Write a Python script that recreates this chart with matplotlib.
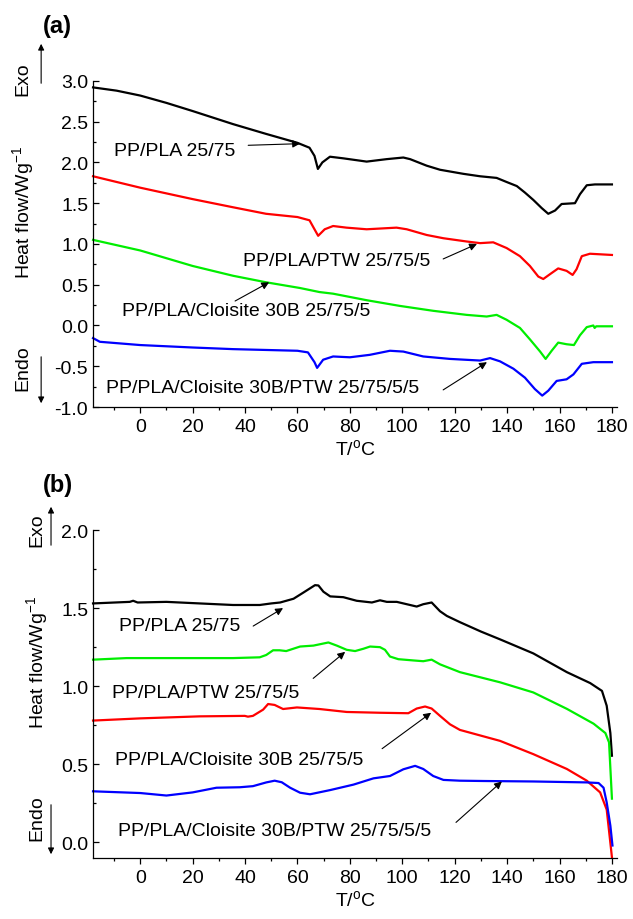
import matplotlib.pyplot as plt
from matplotlib.patches import FancyArrowPatch

plt.rcParams['font.family'] = ['Liberation Sans', 'DejaVu Sans']
plt.rcParams['mathtext.default'] = 'regular'

# ---- panel (a) data: T (deg C), heat flow (W/g) ----
a_pla_T = [-18, -9, 0, 10, 20, 35.4, 48, 60, 64.6, 66.5, 67.8, 69.5, 72.4, 77.5, 86.4, 94, 100.4, 103,
           109.3, 114.4, 123.3, 129.7, 136, 139.8, 143.7, 146.8, 150, 153.2, 155.7, 158.3, 160.8, 165.9,
           167.8, 170.4, 173.5, 180]
a_pla_H = [2.92, 2.88, 2.82, 2.73, 2.63, 2.47, 2.35, 2.24, 2.18, 2.08, 1.92, 2.0, 2.07, 2.05, 2.01, 2.04, 2.06, 2.04,
           1.96, 1.91, 1.86, 1.83, 1.81, 1.76, 1.71, 1.63, 1.54, 1.44, 1.37, 1.41, 1.49, 1.50,
           1.61, 1.72, 1.73, 1.73]

a_ptw_T = [-18, 0, 20, 35.4, 48, 60, 64.6, 66.5, 67.9, 70.4, 73.6, 78.7, 86.4, 97.8, 101.7, 109.3, 115.7,
           124.6, 129.7, 134.7, 139.8, 144.9, 148.7, 151.9, 153.8, 156.4, 159.5, 162.7, 165, 166.5, 168.5,
           171.6, 180]
a_ptw_H = [1.83, 1.69, 1.55, 1.45, 1.37, 1.33, 1.29, 1.18, 1.10, 1.18, 1.22, 1.20, 1.18, 1.20, 1.18, 1.11, 1.07,
           1.03, 1.01, 1.02, 0.95, 0.85, 0.73, 0.60, 0.57, 0.63, 0.70, 0.67, 0.62, 0.69, 0.85,
           0.88, 0.865]

a_clo_T = [-18, 0, 20, 35.4, 48, 60.9, 68.4, 73.6, 86.4, 99.1, 111.8, 124.6, 132.2, 136, 139.8, 144.9, 148.7,
           152.6, 154.7, 157, 159.5, 162.7, 165.5, 167.8, 170.4, 172.9, 173.4, 174, 180]
a_clo_H = [1.05, 0.92, 0.73, 0.61, 0.53, 0.46, 0.41, 0.39, 0.31, 0.24, 0.18, 0.13, 0.11, 0.13, 0.07, -0.03, -0.17,
           -0.32, -0.41, -0.31, -0.21, -0.23, -0.24, -0.12, -0.02, 0.0, -0.03, -0.01, -0.01]

a_all_T = [-18, -15.4, 0, 20, 35.4, 60, 64, 66.5, 67.5, 69.8, 73.6, 80, 87.6, 95.3, 100.4, 108, 118.2, 129.7,
           133.5, 137.3, 142.4, 146.8, 150.6, 153.4, 155.7, 158.9, 162.7, 165.3, 168.5, 172.9, 180]
a_all_H = [-0.155, -0.20, -0.24, -0.27, -0.29, -0.31, -0.33, -0.45, -0.52, -0.42, -0.38, -0.39, -0.36, -0.31, -0.32,
           -0.38, -0.41, -0.43, -0.40, -0.44, -0.53, -0.64, -0.78, -0.86, -0.80, -0.68, -0.66, -0.60, -0.47,
           -0.45, -0.45]

# ---- panel (b) data ----
b_pla_T = [-18, -4, -2.7, -1, 10, 22.7, 35.4, 45.6, 50, 53.4, 58.5, 62.3, 66.7, 68, 69.9, 72.5, 77.5, 82.6,
           88.4, 91.5, 94.1, 97.9, 101.7, 105.5, 108, 111.2, 114.4, 117, 122, 130, 137.3, 150, 162.8, 171.7,
           176.2, 178, 179.4, 180]
b_pla_H = [1.53, 1.54, 1.547, 1.536, 1.54, 1.53, 1.52, 1.52, 1.53, 1.536, 1.56, 1.60, 1.647, 1.645, 1.605, 1.575,
           1.57, 1.547, 1.536, 1.55, 1.54, 1.54, 1.525, 1.51, 1.525, 1.536, 1.48, 1.45, 1.41, 1.35, 1.30, 1.21,
           1.09, 1.02, 0.97, 0.875, 0.70, 0.555]

b_ptw_T = [-18, -5.2, 10, 35.4, 45.6, 48.1, 50.7, 53.2, 55.7, 61, 66.1, 71.8, 75, 78.8, 82, 85.2, 87.7, 91.5,
           93.4, 95.3, 98.5, 104.2, 108, 111.2, 114.4, 122, 137.3, 150, 162.8, 173, 177.5, 178.9, 180]
b_ptw_H = [1.17, 1.18, 1.18, 1.18, 1.185, 1.20, 1.23, 1.23, 1.225, 1.254, 1.26, 1.28, 1.26, 1.233, 1.225, 1.24,
           1.254, 1.25, 1.233, 1.19, 1.173, 1.165, 1.16, 1.17, 1.14, 1.09, 1.025, 0.96, 0.855, 0.76, 0.70, 0.64, 0.28]

b_clo_T = [-18, 0, 22.7, 39.9, 41.1, 43, 46.9, 48.8, 51.3, 54.5, 59.8, 68.4, 78.8, 91.5, 102.3, 105.5, 108.7,
           111.2, 114.4, 118.2, 122, 137.3, 150, 162.8, 170.4, 175.5, 178, 180]
b_clo_H = [0.78, 0.794, 0.807, 0.81, 0.805, 0.81, 0.85, 0.886, 0.88, 0.854, 0.864, 0.854, 0.835, 0.83, 0.827,
           0.857, 0.87, 0.857, 0.81, 0.756, 0.72, 0.65, 0.565, 0.47, 0.395, 0.32, 0.21, -0.095]

b_all_T = [-18, 0, 10, 20, 29.1, 38, 43, 48.1, 51.3, 54, 57.2, 61, 64.8, 72.5, 81.4, 89, 95.3, 100.4, 104.9,
           108, 111.8, 115.7, 122, 131, 150, 170.4, 174.9, 176.8, 178, 179.4, 180.2]
b_all_H = [0.327, 0.316, 0.30, 0.32, 0.35, 0.353, 0.36, 0.384, 0.395, 0.385, 0.35, 0.318, 0.308, 0.335, 0.37,
           0.41, 0.425, 0.468, 0.49, 0.47, 0.425, 0.40, 0.395, 0.393, 0.39, 0.384, 0.38, 0.35, 0.256, 0.107, -0.02]

labels = ['PP/PLA 25/75', 'PP/PLA/PTW 25/75/5', 'PP/PLA/Cloisite 30B 25/75/5',
          'PP/PLA/Cloisite 30B/PTW 25/75/5/5']
colors = ['black', '#ff0000', '#00ee00', '#0000ff']
# in panel (b) the PTW curve is green and the Cloisite curve red
colors_b = ['black', '#00ee00', '#ff0000', '#0000ff']

# text position (left, centre) and arrow (start, end) for each label
a_text = [(-9.9, 2.15), (39.3, 0.80), (-6.9, 0.18), (-13, -0.755)]
a_arrows = [((41.2, 2.21), (61, 2.23)), ((115.6, 0.816), (128.5, 1.0)),
            ((36.2, 0.30), (49.2, 0.53)), ((115.6, -0.79), (132.3, -0.45))]
b_text = [(-8.0, 1.39), (-10.7, 0.96), (-9.5, 0.53), (-8.4, 0.077)]
b_arrows = [((43.1, 1.385), (54.5, 1.50)), ((66, 1.05), (78.2, 1.22)),
            ((92.3, 0.60), (111, 0.83)), ((120.5, 0.128), (138, 0.39))]

fig = plt.figure(figsize=(6.33, 9.2), dpi=100)
ax1 = fig.add_axes([0.147, 0.5565, 0.828, 0.3545])
ax2 = fig.add_axes([0.147, 0.0663, 0.828, 0.3565])

curves_a = [(a_pla_T, a_pla_H), (a_ptw_T, a_ptw_H), (a_clo_T, a_clo_H), (a_all_T, a_all_H)]
curves_b = [(b_pla_T, b_pla_H), (b_ptw_T, b_ptw_H), (b_clo_T, b_clo_H), (b_all_T, b_all_H)]


def style(ax, ylim, ymajor, yminor):
    ax.set_xlim(-18, 182)
    ax.set_ylim(*ylim)
    ax.spines['top'].set_visible(False)
    ax.spines['right'].set_visible(False)
    for s in ['left', 'bottom']:
        ax.spines[s].set_linewidth(0.9)
    ax.set_xticks(range(0, 181, 20))
    ax.set_xticks(range(-10, 181, 20), minor=True)
    ax.set_yticks(ymajor)
    ax.set_yticks(yminor, minor=True)
    ax.tick_params(axis='x', which='major', direction='out', length=4, width=0.9, labelsize=14, pad=4)
    ax.tick_params(axis='x', which='minor', direction='out', length=2.5, width=0.9)
    ax.tick_params(axis='y', which='major', direction='in', length=4.5, width=0.9, labelsize=14, pad=3.5)
    ax.tick_params(axis='y', which='minor', direction='in', length=2.5, width=0.9)
    ax.set_yticklabels(['%.1f' % v for v in ymajor])
    ax.set_xlabel('T/$^{o}$C', fontsize=14, labelpad=2)


for (t, h), c in zip(curves_a, colors):
    ax1.plot(t, h, color=c, lw=1.6, clip_on=False)
for (t, h), c in zip(curves_b, colors_b):
    ax2.plot(t, h, color=c, lw=1.6, clip_on=False)

style(ax1, (-1.0, 3.0), [-1.0, -0.5, 0.0, 0.5, 1.0, 1.5, 2.0, 2.5, 3.0],
      [-0.75, -0.25, 0.25, 0.75, 1.25, 1.75, 2.25, 2.75])
style(ax2, (-0.1, 2.0), [0.0, 0.5, 1.0, 1.5, 2.0], [0.25, 0.75, 1.25, 1.75])

for ax, txts, arrs in [(ax1, a_text, a_arrows), (ax2, b_text, b_arrows)]:
    for lab, (tx, ty), (st, en) in zip(labels, txts, arrs):
        ax.text(tx, ty, lab, fontsize=14, ha='left', va='center')
        ax.annotate('', xy=en, xytext=st,
                    arrowprops=dict(arrowstyle='-|>', lw=0.8, color='black', mutation_scale=11,
                                    shrinkA=0, shrinkB=0))

# panel letters, axis titles, exo/endo markers
fig.text(0.068, 0.9707, '(a)', fontsize=17, fontweight='bold', ha='left', va='center')
fig.text(0.068, 0.4728, '(b)', fontsize=17, fontweight='bold', ha='left', va='center')

for x_t, x_ar, y_label, exo, endo in [
        (0.0363, 0.0650, 0.7685, (0.9136, 0.9054, 0.9543), (0.5995, 0.6141, 0.5576)),
        (0.0585, 0.0806, 0.2804, (0.4239, 0.4033, 0.4511), (0.1109, 0.1272, 0.0674))]:
    fig.text(x_t, y_label, 'Heat flow/Wg$^{-1}$', fontsize=14, rotation=90, ha='center', va='center')
    fig.text(x_t, exo[0], 'Exo', fontsize=14, rotation=90, ha='center', va='center')
    fig.text(x_t, endo[0], 'Endo', fontsize=14, rotation=90, ha='center', va='center')
    fig.add_artist(FancyArrowPatch((x_ar, exo[1]), (x_ar, exo[2]), transform=fig.transFigure,
                                   arrowstyle='-|>', lw=0.8, color='black', mutation_scale=9))
    fig.add_artist(FancyArrowPatch((x_ar, endo[1]), (x_ar, endo[2]), transform=fig.transFigure,
                                   arrowstyle='-|>', lw=0.8, color='black', mutation_scale=9))

fig.savefig('out.png', dpi=100)
